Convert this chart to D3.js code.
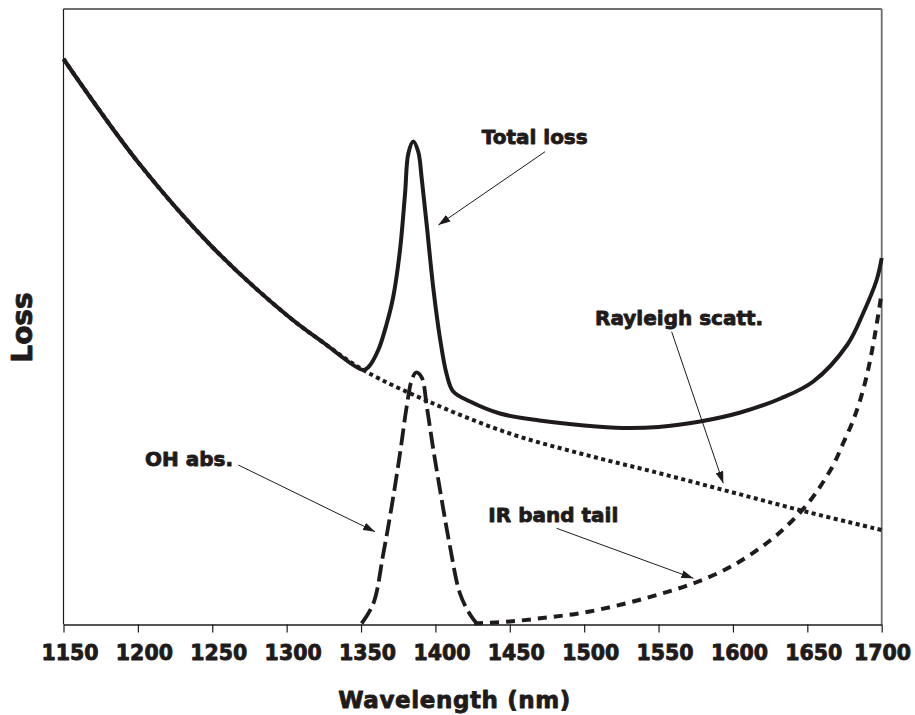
<!DOCTYPE html>
<html>
<head>
<meta charset="utf-8">
<script src="https://cdn.jsdelivr.net/npm/d3@7/dist/d3.min.js"></script>
<style>
  html, body { margin: 0; padding: 0; background: #fff; }
  svg { display: block; }
  .heavy { font-family: "Arial Black", "DejaVu Sans", sans-serif; font-weight: bold; fill: #1f1b1b; stroke: #1f1b1b; stroke-width: 0.85px; stroke-linejoin: round; }
</style>
</head>
<body>
<svg id="chart" width="915" height="715"></svg>
<script>
// Wavelength ticks (nm)
const tickWavelengths = [1150, 1200, 1250, 1300, 1350, 1400, 1450, 1500, 1550, 1600, 1650, 1700];

// Total loss (arbitrary units)
const totalWavelengths = [1150, 1200, 1250, 1300, 1325, 1351.5, 1355, 1361.6, 1367.3, 1371.7, 1376.2, 1379.6, 1381.8, 1385.1,
  1388.5, 1390.8, 1394.2, 1398.6, 1403.1, 1407.6, 1412, 1423.3, 1443.4, 1470, 1500, 1526, 1550, 1578, 1605, 1632, 1654, 1677, 1687.6, 1696.6, 1700];
const totalLoss = [565.5, 462.5, 377.5, 309.5, 281.5, 254.5, 257.5, 274.5, 301, 328, 374.5, 431, 471, 483,
  472.5, 446, 399, 336, 286, 250, 233, 223, 211, 204, 199, 196.5, 197.5, 203, 212, 226, 243, 280, 311.5, 344.5, 366.5];

// Rayleigh scattering
const rayleighWavelengths = [1150, 1200, 1250, 1300, 1325, 1351.5, 1400, 1450, 1500, 1550, 1600, 1650, 1700];
const rayleighLoss = [565.5, 462.5, 377.5, 309.5, 281.5, 254.5, 220, 191, 170, 151.5, 132, 112.5, 94.5];

// OH absorption peak
const ohWavelengths = [1350.4, 1358.3, 1365, 1370.6, 1376.2, 1380.7, 1384, 1387, 1390.8, 1394.2, 1398.6, 1404.2, 1409.8, 1416.5, 1423.3, 1427.8];
const ohLoss = [1, 21, 71, 118, 171, 218, 244, 252, 247, 218, 175, 125, 78, 31, 10, 1];

// Infrared absorption band tail
const irWavelengths = [1426, 1450, 1475, 1500, 1525, 1550, 1575, 1600, 1625, 1640, 1652, 1660, 1668, 1674, 1680, 1685, 1690, 1695, 1700];
const irLoss = [1, 3, 7, 12, 20, 30, 42, 59, 84, 104, 124, 141, 161, 181, 201, 222, 249, 286, 332];

// Callout labels: text anchor and arrow (from -> to) in data units
const calloutText = ["Total loss", "Rayleigh scatt.", "OH abs.", "IR band tail"];
const calloutAnchor = [[1431.1, 481], [1507.3, 299.5], [1204.8, 158.5], [1435.6, 102.2]];
const calloutFrom = [[1473.7, 472.8], [1558.8, 292.8], [1267.5, 159.5], [1481.5, 96.2]];
const calloutTo = [[1402, 399.5], [1593.5, 141.2], [1359.4, 92.8], [1573.4, 46.2]];

const ink = "#1f1b1b";
const margin = { left: 63.5, right: 915 - 881.7, top: 9, bottom: 715 - 624.5 };
const W = 915, H = 715;
const plotW = W - margin.left - margin.right;
const plotH = H - margin.top - margin.bottom;

const svg = d3.select("#chart");
const g = svg.append("g").attr("transform", `translate(${margin.left},${margin.top})`);

const x = d3.scaleLinear().domain([1150, 1700]).range([0, plotW]);
const y = d3.scaleLinear().domain([0, 615.5]).range([plotH, 0]);

// Frame: grey top and right edges, dark left axis
g.append("line").attr("x1", 0).attr("x2", plotW).attr("y1", 0).attr("y2", 0)
  .attr("stroke", "#6e6e6e").attr("stroke-width", 1.8);
g.append("line").attr("x1", plotW).attr("x2", plotW).attr("y1", 0).attr("y2", plotH)
  .attr("stroke", "#6e6e6e").attr("stroke-width", 1.8);
g.append("line").attr("x1", 0).attr("x2", 0).attr("y1", 0).attr("y2", plotH)
  .attr("stroke", ink).attr("stroke-width", 1.2);

// Bottom axis
const xAxis = d3.axisBottom(x).tickValues(tickWavelengths).tickSize(8).tickSizeOuter(0).tickFormat(d3.format("d"));
const ax = g.append("g").attr("transform", `translate(0,${plotH})`).call(xAxis);
ax.select(".domain").attr("stroke", ink).attr("stroke-width", 1.5);
ax.selectAll(".tick line").attr("stroke", ink).attr("stroke-width", 1.2);
ax.selectAll(".tick text")
  .attr("class", "heavy")
  .attr("font-size", 20.5)
  .attr("y", 0)
  .attr("dy", 35)
  .attr("dx", 6);
// keep the last label inside the page
ax.selectAll(".tick text").each(function () {
  const bb = this.getBBox();
  const t = d3.select(this.parentNode).attr("transform");
  const tx = +t.match(/translate\(([-\d.]+)/)[1];
  const right = margin.left + tx + 6 + bb.width / 2;
  if (right > W - 4) d3.select(this).attr("dx", 6 - (right - (W - 4)));
});

// Axis titles
svg.append("text").attr("class", "heavy")
  .attr("x", margin.left + plotW / 2 - 18).attr("y", 708)
  .attr("text-anchor", "middle").attr("font-size", 23)
  .attr("letter-spacing", 0.6)
  .text("Wavelength (nm)");
svg.append("text").attr("class", "heavy")
  .attr("transform", `translate(32,${327.5}) rotate(-90)`)
  .attr("text-anchor", "middle").attr("font-size", 28)
  .text("Loss");

// Curves
const line = d3.line().curve(d3.curveCatmullRom.alpha(0.5)).x(d => x(d[0])).y(d => y(d[1]));

g.append("path").datum(d3.zip(rayleighWavelengths, rayleighLoss))
  .attr("d", line).attr("fill", "none").attr("stroke", ink)
  .attr("stroke-width", 4).attr("stroke-dasharray", "4,3.5");

g.append("path").datum(d3.zip(irWavelengths, irLoss))
  .attr("d", line).attr("fill", "none").attr("stroke", ink)
  .attr("stroke-width", 4).attr("stroke-dasharray", "9,7");

g.append("path").datum(d3.zip(ohWavelengths, ohLoss))
  .attr("d", line).attr("fill", "none").attr("stroke", ink)
  .attr("stroke-width", 3.8).attr("stroke-dasharray", "17,6");

g.append("path").datum(d3.zip(totalWavelengths, totalLoss))
  .attr("d", line).attr("fill", "none").attr("stroke", ink)
  .attr("stroke-width", 4).attr("stroke-linejoin", "round");

// Callouts with arrowheads
svg.append("defs").append("marker")
  .attr("id", "arrowhead").attr("viewBox", "0 0 12 8")
  .attr("refX", 12).attr("refY", 4)
  .attr("markerWidth", 12).attr("markerHeight", 8)
  .attr("markerUnits", "userSpaceOnUse")
  .attr("orient", "auto")
  .append("path").attr("d", "M0,0 L12,4 L0,8 Z").attr("fill", ink);

calloutText.forEach((t, i) => {
  g.append("line")
    .attr("x1", x(calloutFrom[i][0])).attr("y1", y(calloutFrom[i][1]))
    .attr("x2", x(calloutTo[i][0])).attr("y2", y(calloutTo[i][1]))
    .attr("stroke", ink).attr("stroke-width", 1)
    .attr("marker-end", "url(#arrowhead)");
  g.append("text").attr("class", "heavy")
    .attr("x", x(calloutAnchor[i][0])).attr("y", y(calloutAnchor[i][1]))
    .attr("font-size", 20)
    .text(t);
});
</script>
</body>
</html>
